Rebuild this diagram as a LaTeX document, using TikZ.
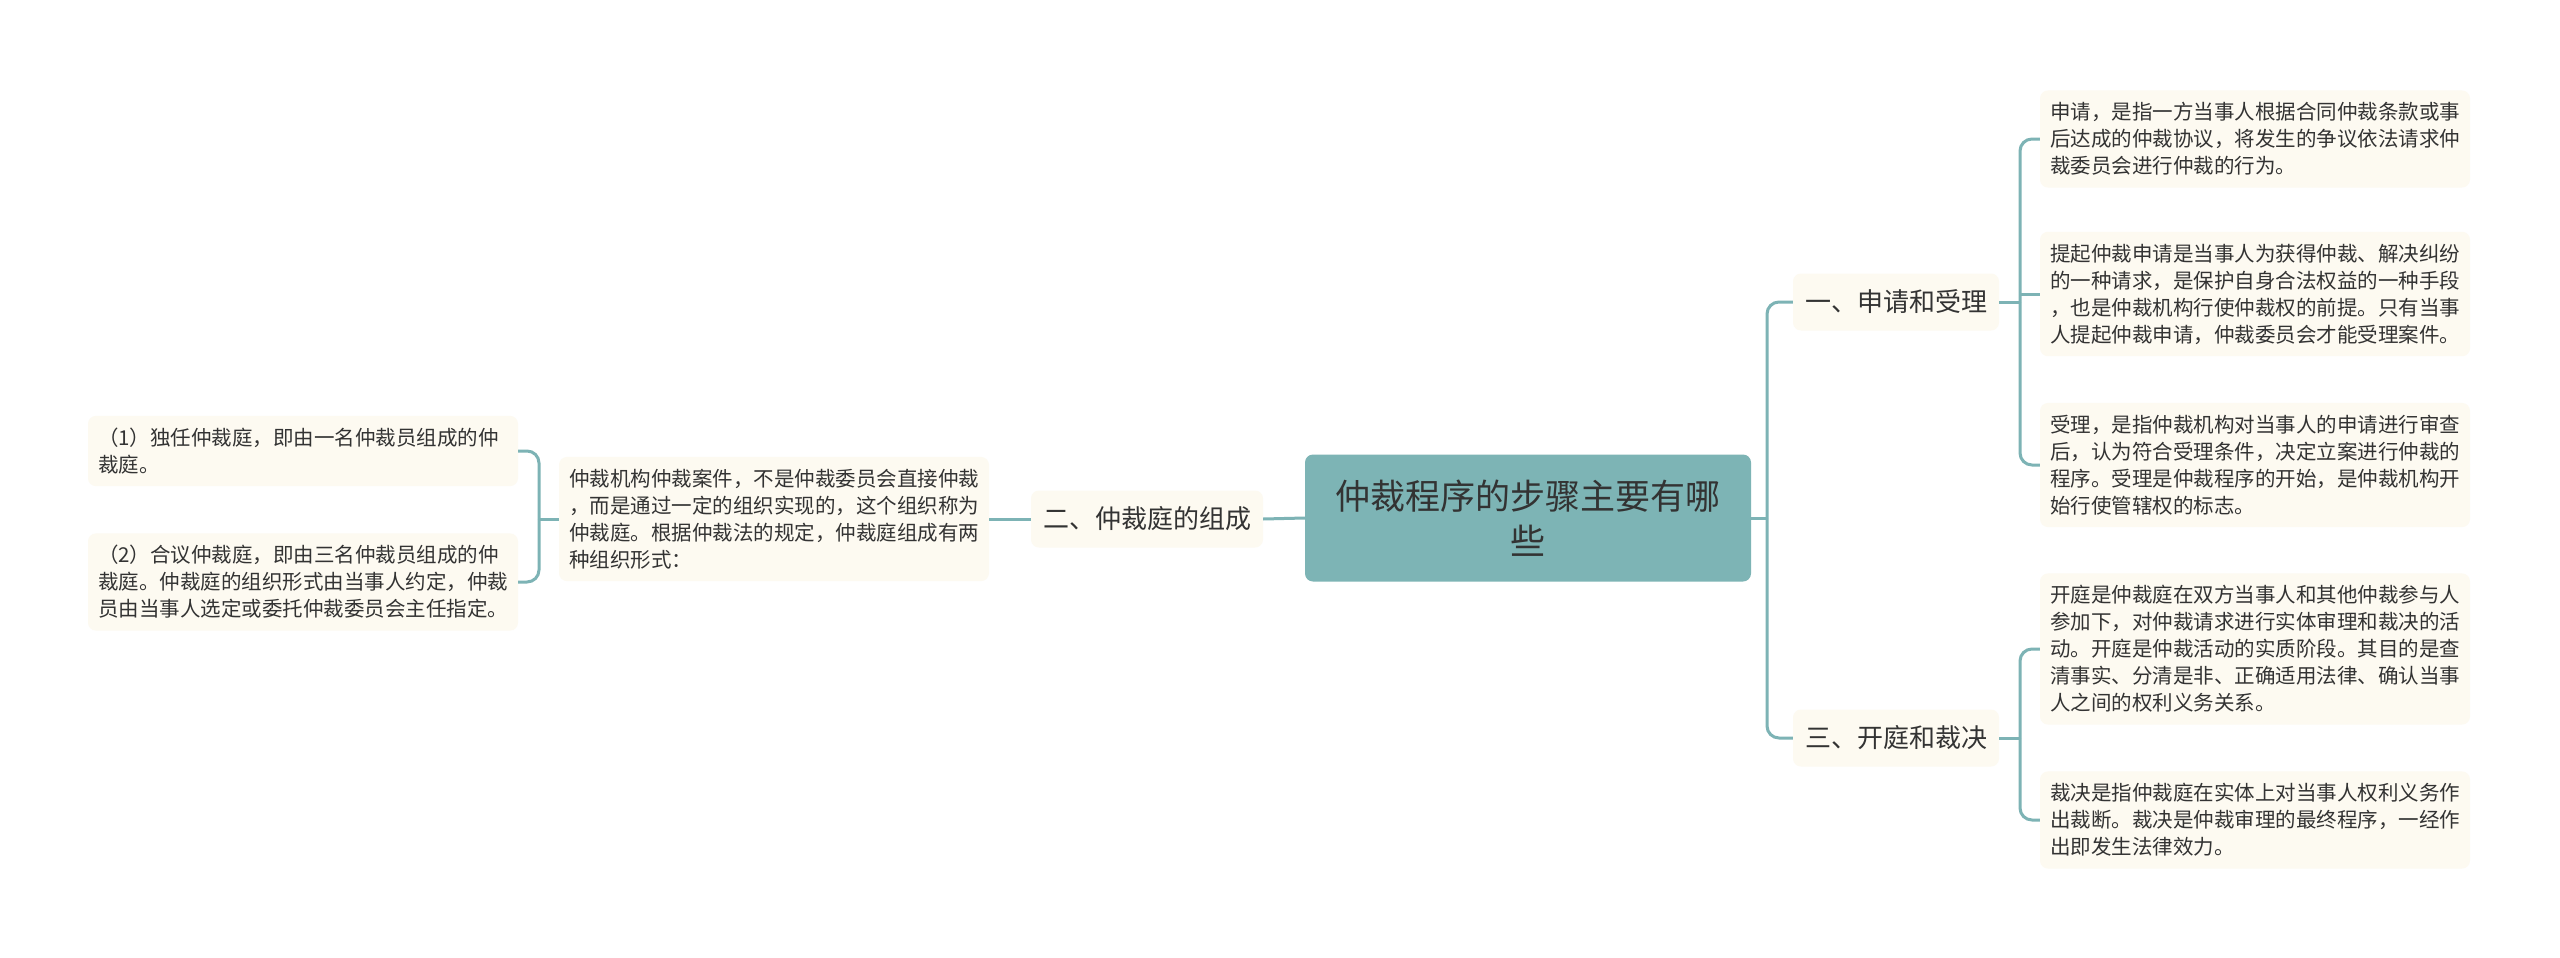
\documentclass[tikz,border=0pt]{standalone}
\usepackage{fontspec}
\setmainfont{Noto Sans CJK SC}
\usepackage{tikz}
\usetikzlibrary{positioning}

\definecolor{linecol}{HTML}{7DB3B5}
\definecolor{rootfill}{HTML}{7DB4B5}
\definecolor{leaffill}{HTML}{FDFAF1}
\definecolor{textcol}{HTML}{333333}

\tikzset{
  rootbox/.style={fill=rootfill, rounded corners=8pt, minimum width=446pt, minimum height=127pt,
    text width=400pt, align=center, font=\fontsize{35}{45}\selectfont, text=textcol},
  topic/.style={fill=leaffill, rounded corners=8pt, minimum height=57pt, inner xsep=12pt,
    font=\fontsize{26}{32}\selectfont, text=textcol},
  leaf/.style={fill=leaffill, rounded corners=8pt, text width=410pt, inner xsep=10pt, inner ysep=12pt,
    align=left, font=\fontsize{20.5}{27}\selectfont, text=textcol},
  link/.style={draw=linecol, line width=3pt, rounded corners=12pt},
}

\begin{document}
\begin{tikzpicture}[x=1pt,y=1pt]
    \path[fill=white,use as bounding box] (0,0) rectangle (2560,-958);

    \node[rootbox] (root) at (1528,-518) {仲裁程序的步骤主要有哪\\些};
    \node[topic] (apply) at (1896,-302) {一、申请和受理};
    \node[topic] (hearing) at (1896,-738) {三、开庭和裁决};
    \node[topic] (tribunal) at (1147,-519) {二、仲裁庭的组成};

    \node[leaf] (a1) at (2255,-139) {申请，是指一方当事人根据合同仲裁条款或事\\后达成的仲裁协议，将发生的争议依法请求仲\\裁委员会进行仲裁的行为。};
    \node[leaf] (a2) at (2255,-294) {提起仲裁申请是当事人为获得仲裁、解决纠纷\\的一种请求，是保护自身合法权益的一种手段\\，也是仲裁机构行使仲裁权的前提。只有当事\\人提起仲裁申请，仲裁委员会才能受理案件。};
    \node[leaf] (a3) at (2255,-465) {受理，是指仲裁机构对当事人的申请进行审查\\后，认为符合受理条件，决定立案进行仲裁的\\程序。受理是仲裁程序的开始，是仲裁机构开\\始行使管辖权的标志。};
    \node[leaf] (h1) at (2255,-649) {开庭是仲裁庭在双方当事人和其他仲裁参与人\\参加下，对仲裁请求进行实体审理和裁决的活\\动。开庭是仲裁活动的实质阶段。其目的是查\\清事实、分清是非、正确适用法律、确认当事\\人之间的权利义务关系。};
    \node[leaf] (h2) at (2255,-820) {裁决是指仲裁庭在实体上对当事人权利义务作\\出裁断。裁决是仲裁审理的最终程序，一经作\\出即发生法律效力。};

    \node[leaf] (t0) at (774,-519) {仲裁机构仲裁案件，不是仲裁委员会直接仲裁\\，而是通过一定的组织实现的，这个组织称为\\仲裁庭。根据仲裁法的规定，仲裁庭组成有两\\种组织形式：};
    \node[leaf] (t1) at (303,-451) {（1）独任仲裁庭，即由一名仲裁员组成的仲\\裁庭。};
    \node[leaf] (t2) at (303,-582) {（2）合议仲裁庭，即由三名仲裁员组成的仲\\裁庭。仲裁庭的组织形式由当事人约定，仲裁\\员由当事人选定或委托仲裁委员会主任指定。};

    % connectors
    \coordinate (jr) at (1767,-518);
    \draw[link] (root.east) -- (jr);
    \draw[link] (jr) |- (apply.west);
    \draw[link] (jr) |- (hearing.west);
    \draw[link] (tribunal.east) -- (root.west);
    \draw[link] (t0.east) -- (tribunal.west);

    \coordinate (ja) at (2020,-302);
    \draw[link] (apply.east) -- (ja);
    \foreach \n in {a1,a3} \draw[link] (ja) |- (\n.west);
    \draw[link] (ja |- a2.west) -- (a2.west);

    \coordinate (jh) at (2020,-738);
    \draw[link] (hearing.east) -- (jh);
    \foreach \n in {h1,h2} \draw[link] (jh) |- (\n.west);

    \coordinate (jt) at (539,-519);
    \draw[link] (t0.west) -- (jt);
    \foreach \n in {t1,t2} \draw[link] (jt) |- (\n.east);
\end{tikzpicture}
\end{document}
